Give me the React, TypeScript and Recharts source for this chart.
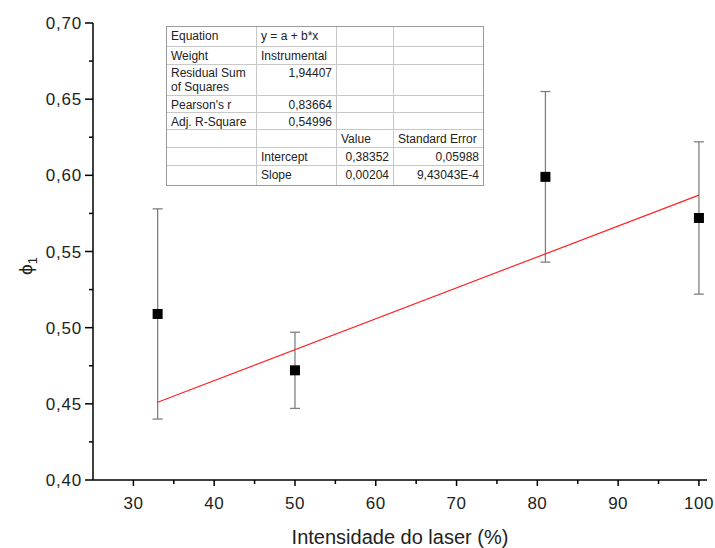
import React from 'react';
import {
  ComposedChart,
  Scatter,
  XAxis,
  YAxis,
  ErrorBar,
} from 'recharts';

// measured points (laser intensity %, phi_1, error)
const intensity = [33, 50, 81, 100];
const phi1 = [0.509, 0.472, 0.599, 0.572];
const phi1Err = [0.069, 0.025, 0.056, 0.05];

// linear fit endpoints
const fitX = [33, 100];
const fitY = [0.451, 0.587];

const xTicks = [30, 35, 40, 45, 50, 55, 60, 65, 70, 75, 80, 85, 90, 95, 100];
const yTicks = [0.4, 0.425, 0.45, 0.475, 0.5, 0.525, 0.55, 0.575, 0.6, 0.625, 0.65, 0.675, 0.7];

// fit report table
const tableRows: string[][] = [
  ['Equation', 'y = a + b*x', '', ''],
  ['Weight', 'Instrumental', '', ''],
  ['Residual Sum of Squares', '1,94407', '', ''],
  ["Pearson's r", '0,83664', '', ''],
  ['Adj. R-Square', '0,54996', '', ''],
  ['', '', 'Value', 'Standard Error'],
  ['', 'Intercept', '0,38352', '0,05988'],
  ['', 'Slope', '0,00204', '9,43043E-4'],
];

const FONT = '"Liberation Sans", Arial, sans-serif';

const points = intensity.map((x, i) => ({ x, y: phi1[i], err: phi1Err[i] }));
const fitData = fitX.map((x, i) => ({ x, y: fitY[i] }));

const fmt = (v: number) => v.toFixed(2).replace('.', ',');

const XTick = ({ x, y, payload }: any) => {
  const major = payload.value % 10 === 0;
  return (
    <g>
      <line x1={x} x2={x} y1={y} y2={y + (major ? 6 : 4)} stroke="#000" strokeWidth={1.5} />
      {major && (
        <text x={x} y={y + 29} textAnchor="middle" fontSize={17} letterSpacing={0.5} fontFamily={FONT} fill="#222">
          {payload.value}
        </text>
      )}
    </g>
  );
};

const YTick = ({ x, y, payload }: any) => {
  const major = Math.round(payload.value * 1000) % 50 === 0;
  return (
    <g>
      <line x1={x} x2={x - (major ? 8 : 4)} y1={y} y2={y} stroke="#000" strokeWidth={1.5} />
      {major && (
        <text x={x - 11} y={y + 6} textAnchor="end" fontSize={17} letterSpacing={0.8} fontFamily={FONT} fill="#222">
          {fmt(payload.value)}
        </text>
      )}
    </g>
  );
};

const SquareDot = ({ cx, cy }: any) => (
  <rect x={cx - 5} y={cy - 5} width={10} height={10} fill="#000" />
);

const colW = [90, 80, 57, 89];
const rowH = [20, 18, 31, 17, 17, 18, 18, 19];

function FitTable() {
  return (
    <div
      style={{
        position: 'absolute',
        left: 166,
        top: 26,
        border: '1px solid #9a9a9a',
        fontFamily: FONT,
        fontSize: 12,
        color: '#222',
        background: '#fff',
      }}
    >
      {tableRows.map((row, r) => (
        <div key={r} style={{ display: 'flex', height: rowH[r] }}>
          {row.map((cell, c) => {
            const alignRight = /^[0-9]/.test(cell) && r > 0;
            return (
              <div
                key={c}
                style={{
                  width: colW[c],
                  boxSizing: 'border-box',
                  borderRight: c < 3 ? '1px solid #c8c8c8' : 'none',
                  borderBottom: r < tableRows.length - 1 ? '1px solid #c8c8c8' : 'none',
                  padding: r === 2 ? '1px 4px 0 4px' : '2px 4px 0 4px',
                  textAlign: alignRight ? 'right' : 'left',
                  lineHeight: '14px',
                  whiteSpace: r === 2 && c === 0 ? 'normal' : 'nowrap',
                }}
              >
                {cell}
              </div>
            );
          })}
        </div>
      ))}
    </div>
  );
}

export default function App() {
  return (
    <div style={{ position: 'absolute', left: 0, top: 0, width: 715, height: 548, background: '#fff' }}>
      <ComposedChart
        width={715}
        height={548}
        margin={{ top: 23, right: 8, bottom: 0, left: 33 }}
      >
        <XAxis
          type="number"
          dataKey="x"
          domain={[25, 101]}
          ticks={xTicks}
          interval={0}
          allowDataOverflow
          height={68}
          tickSize={0}
          tickMargin={0}
          tickLine={false}
          tick={<XTick />}
          axisLine={{ stroke: '#000', strokeWidth: 1.5 }}
          label={{
            value: 'Intensidade do laser (%)',
            position: 'insideBottom',
            offset: 4,
            style: { fontSize: 20, fontFamily: FONT, fill: '#222' },
          }}
        />
        <YAxis
          type="number"
          dataKey="y"
          domain={[0.4, 0.7]}
          ticks={yTicks}
          interval={0}
          allowDataOverflow
          width={60}
          tickSize={0}
          tickMargin={0}
          tickLine={false}
          tick={<YTick />}
          axisLine={{ stroke: '#000', strokeWidth: 1.5 }}
        />
        <Scatter
          data={fitData}
          line={{ stroke: '#ff2020', strokeWidth: 1.2 }}
          shape={() => null}
          isAnimationActive={false}
        />
        <Scatter data={points} shape={<SquareDot />} isAnimationActive={false}>
          <ErrorBar dataKey="err" direction="y" width={5} stroke="#808080" strokeWidth={1.3} />
        </Scatter>
        <text
          x={32}
          y={266}
          transform="rotate(-90 32 266)"
          textAnchor="middle"
          fontSize={19}
          fontFamily={FONT}
          fill="#222"
        >
          ϕ<tspan fontSize={13} dy={5}>1</tspan>
        </text>
      </ComposedChart>
      <FitTable />
    </div>
  );
}
